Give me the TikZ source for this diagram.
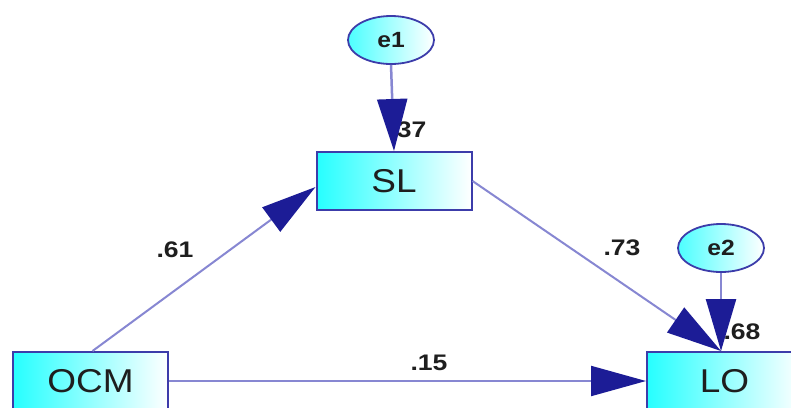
\documentclass[tikz,border=0pt]{standalone}
\usepackage{fontspec}
\setmainfont{Liberation Sans}
\newfontfamily\widefont[FakeStretch=1.12]{Liberation Sans}
\newfontfamily\widerfont[FakeStretch=1.18]{Liberation Sans}
\usetikzlibrary{arrows.meta,shapes.geometric,calc}
\definecolor{boxline}{RGB}{60,60,170}
\definecolor{edgeline}{RGB}{135,135,210}
\definecolor{headfill}{RGB}{28,28,150}
\definecolor{txt}{RGB}{30,30,30}
\tikzset{
  varbox/.style={draw=boxline, line width=2pt, rectangle, minimum width=155pt, minimum height=58pt,
    left color=cyan!85, right color=white, text=txt, font=\widefont\fontsize{33}{34}\selectfont, inner sep=0pt},
  errnode/.style={draw=boxline, line width=1.8pt, ellipse, minimum width=86pt, minimum height=48pt,
    left color=cyan!70, right color=white, text=txt, font=\widefont\fontsize{22}{23}\selectfont\bfseries, inner sep=0pt},
  causal/.style={draw=edgeline, line width=2pt, -{Triangle[length=55pt,width=30pt,fill=headfill,color=headfill]}},
  errpath/.style={draw=edgeline, line width=2.5pt, -{Triangle[length=52pt,width=30pt,fill=headfill,color=headfill]}},
  coef/.style={text=txt, font=\widerfont\fontsize{22.5}{23}\selectfont\bfseries, inner sep=0pt}
}
\begin{document}
\begin{tikzpicture}[x=1pt,y=-1pt]
\useasboundingbox (0,0) rectangle (791,407);
\clip (0,0) rectangle (791,407);
\fill[white] (0,0) rectangle (791,407);
% nodes
\node[varbox] (SL) at (394,181) {SL};
\node[varbox] (OCM) at (90.5,381) {OCM};
\node[varbox] (LO) at (724.5,381) {LO};
\node[errnode] (e1) at (391,40) {e1};
\node[errnode] (e2) at (721,248) {e2};
% labels
\node[coef] (l37) at (408,130) {.37};
\node[coef] (l68) at (742,332) {.68};
\node[coef] (l61) at (175,250) {.61};
\node[coef] (l73) at (622,248) {.73};
\node[coef] (l15) at (429,363) {.15};
% anchor points
\coordinate (slin) at ($(SL.west)+(0,6)$);
\coordinate (loin) at ($(LO.north west)+(75,0)$);
\coordinate (ocmout) at ($(OCM.north)+(2,0)$);
% connectors
\draw[causal] (ocmout) -- (slin);
\draw[causal] (SL.east) -- (loin);
\draw[causal] (OCM.east) -- (LO.west);
\draw[errpath] (e1.south) -- (SL.north);
\draw[errpath] (e2.south) -- (loin);
\end{tikzpicture}
\end{document}
